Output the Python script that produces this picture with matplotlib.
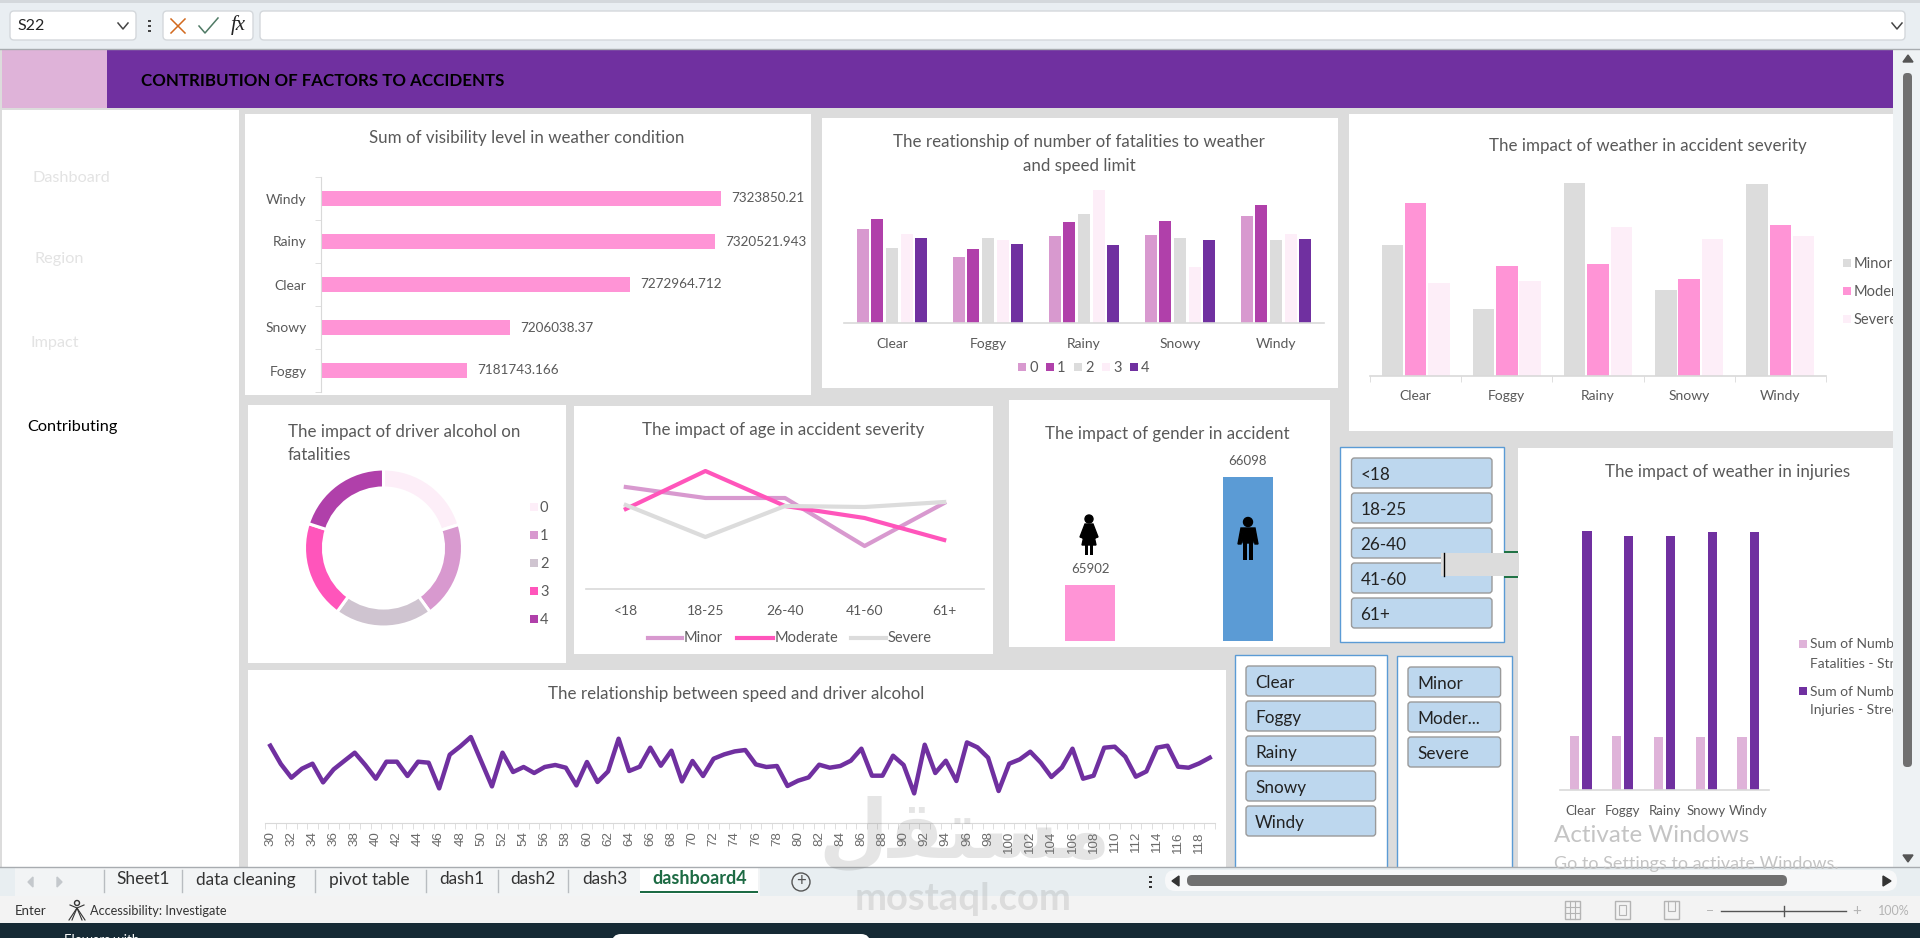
#!/usr/bin/env python3
import matplotlib
matplotlib.use("Agg")
import matplotlib.pyplot as plt
from matplotlib.patches import Rectangle, FancyBboxPatch, Circle, Polygon

W, H = 1920, 938
plt.rcParams['font.family'] = ['Lato', 'DejaVu Sans']

# data
weather = ["Clear", "Foggy", "Rainy", "Snowy", "Windy"]
visibility_labels = ["Foggy", "Snowy", "Clear", "Rainy", "Windy"]
visibility_sum = [7181743.166, 7206038.37, 7272964.712, 7320521.943, 7323850.21]
fatal_0 = [94, 66, 87, 88, 107]
fatal_1 = [104, 74, 101, 102, 118]
fatal_2 = [75, 85, 109, 85, 83]
fatal_3 = [89, 83, 133, 56, 89]
fatal_4 = [85, 79, 78, 83, 84]
weather_minor = [131, 67, 193, 86, 192]
weather_moderate = [173, 110, 112, 97, 151]
weather_severe = [93, 95, 149, 137, 140]
alcohol_groups = ["0", "1", "2", "3", "4"]
alcohol_share = [20.2, 19.8, 20, 20, 20]
age_groups = ["<18", "18-25", "26-40", "41-60", "61+"]
age_minor = [102, 91, 91, 43, 86]
age_moderate = [80, 118, 83, 71, 49]
age_severe = [84, 52, 83, 82, 87]
gender_values = [65902, 66098]
injuries_fatal = [54, 54, 53, 53, 53]
injuries_count = [259, 254, 254, 258, 258]
speeds = list(range(30, 120))
speed_alcohol = [
    77.0, 58.7, 45, 54, 59, 40.3, 53.3, 61.7, 70, 57.7, 44, 61, 61, 46.7, 61,
    60, 34.3, 68, 76.3, 85.7, 61, 36.3, 70, 50.7, 55.7, 49.7, 55.7, 57.7, 55,
    37.3, 60.7, 40.7, 51.3, 84, 51.7, 56, 75, 57, 72, 41.3, 61.7, 46.7, 64,
    68.3, 71.3, 72.7, 58.3, 55.7, 56.7, 36.7, 42, 45.3, 58, 55, 56.7, 62, 74,
    47, 47, 67, 57.7, 29.3, 78, 49.7, 62, 41.7, 80.3, 75.3, 65, 31.7, 59, 63.3,
    71, 60, 45.7, 55.3, 74, 44, 47, 75, 76, 66, 46, 51.3, 75, 77, 56, 55, 59.3, 65,
]
slicer_age = age_groups
slicer_weather = weather
slicer_severity = ["Minor", "Moder...", "Severe"]
sheet_tabs = ["Sheet1", "data cleaning", "pivot table", "dash1", "dash2", "dash3"]

PURPLE = "#7030a0"
PINK = "#ff94d6"
LILAC = "#d899cf"
MAGENTA = "#b040aa"
GREY = "#dcdcdc"
PALE = "#fdeef8"
HOT = "#ff55bb"
TXT = "#595959"
AXIS = "#d9d9d9"
TITLE_SIZE = 12.2

fig = plt.figure(figsize=(W / 100, H / 100), dpi=100, facecolor=GREY)


def layer(z):
    a = fig.add_axes([0, 0, 1, 1], zorder=z)
    a.set_xlim(0, W)
    a.set_ylim(H, 0)
    a.axis("off")
    return a


def chart_axes(x0, y0, x1, y1):
    a = fig.add_axes([x0 / W, 1 - y1 / H, (x1 - x0) / W, (y1 - y0) / H], zorder=2)
    a.patch.set_visible(False)
    for s in a.spines.values():
        s.set_visible(False)
    a.set_yticks([])
    return a


def box(a, x0, y0, x1, y1, color, **kw):
    a.add_patch(Rectangle((x0, y0), x1 - x0, y1 - y0, facecolor=color, edgecolor=kw.pop("edgecolor", "none"), **kw))


def text(a, x, y, s, size=11, color=TXT, ha="left", **kw):
    # va=center sits a little high for this font, nudge it down
    a.text(x, y + 1.5, s, fontsize=size, color=color, ha=ha, va="center", **kw)


def legend_square(a, x, y, color, label, size=10.5, gap=11):
    box(a, x, y - 4, x + 8, y + 4, color)
    text(a, x + gap, y, label, size=size)


def base_axis(a, ticks=False):
    a.spines["bottom"].set_visible(True)
    a.spines["bottom"].set_color(AXIS)
    a.spines["bottom"].set_linewidth(1.2)
    a.tick_params(axis="x", which="major", length=0, labelsize=10, labelcolor=TXT)
    if ticks:
        a.set_xticks([i - 0.5 for i in range(len(weather) + 1)], minor=True)
        a.tick_params(axis="x", which="minor", length=4, color=AXIS)


bg = layer(0)
top = layer(5)
over = layer(6)

# sheet background and header band
box(bg, 0, 50, W, 867, GREY)
box(bg, 2, 50, 107, 108, "#dfb3d9")
box(bg, 107, 50, 1893, 108, PURPLE)
text(bg, 141, 79, "CONTRIBUTION OF FACTORS TO ACCIDENTS", size=12.2, color="black", fontweight="bold")
box(bg, 2, 110, 239, 867, "white")
text(bg, 32, 177, "Dashboard", size=11.7, color="#e3e3e3")
text(bg, 35, 258, "Region", size=11.7, color="#e3e3e3")
text(bg, 31, 342, "Impact", size=11.7, color="#e3e3e3")
text(bg, 27, 425, "Contributing", size=11.7, color="black")

# white chart panels
panels = [
    (245, 114, 811, 395), (822, 118, 1338, 388), (1349, 114, 1893, 431),
    (248, 405, 566, 663), (574, 406, 993, 654), (1009, 400, 1330, 647),
    (248, 670, 1226, 867), (1518, 448, 1893, 867),
]
for p in panels:
    box(bg, p[0], p[1], p[2], p[3], "white")

# visibility by weather
ax = chart_axes(320.6, 177, 811, 392)
scale = 0.001787
ax.barh(visibility_labels, visibility_sum, height=0.36, color=PINK)
ax.set_xlim(7100000, 7100000 + (811 - 320.6) / scale)
ax.set_ylim(-0.5, 4.5)
ax.set_xticks([])
ax.set_yticks(range(5), visibility_labels)
ax.set_yticks([i - 0.5 for i in range(6)], minor=True)
ax.tick_params(axis="y", which="major", length=0, pad=10, labelsize=10, labelcolor=TXT)
ax.tick_params(axis="y", which="minor", length=4, color=AXIS)
ax.spines["left"].set_visible(True)
ax.spines["left"].set_color(AXIS)
for i, v in enumerate(visibility_sum):
    ax.annotate(f"{v:.10g}", (v, i), xytext=(7.5, 0), textcoords="offset points",
                va="center", fontsize=9.7, color=TXT)
text(top, 527, 137, "Sum of visibility level in weather condition", size=TITLE_SIZE, ha="center")

# fatalities by weather and speed limit
ax = chart_axes(844, 173, 1324, 323.3)
for j, (vals, col) in enumerate(zip([fatal_0, fatal_1, fatal_2, fatal_3, fatal_4],
                                    [LILAC, MAGENTA, GREY, PALE, PURPLE])):
    ax.bar([i + (j - 2) * 0.153 for i in range(5)], vals, width=0.127, color=col)
ax.set_xlim(-0.5, 4.5)
ax.set_ylim(0, 150.3)
ax.set_xticks(range(5), weather)
base_axis(ax)
ax.tick_params(axis="x", which="major", pad=10.5)
text(top, 1079, 140.5, "The reationship of number of fatalities to weather", size=TITLE_SIZE, ha="center")
text(top, 1079, 164, "and speed limit", size=TITLE_SIZE, ha="center")
for x, col, lab in zip([1018, 1046, 1074, 1102, 1130], [LILAC, MAGENTA, GREY, PALE, PURPLE], alcohol_groups):
    legend_square(top, x, 367, col, lab)

# severity by weather
ax = chart_axes(1370, 176, 1826, 376.3)
for j, (vals, col) in enumerate(zip([weather_minor, weather_moderate, weather_severe], [GREY, PINK, PALE])):
    ax.bar([i + (j - 1) * 0.255 for i in range(5)], vals, width=0.235, color=col)
ax.set_xlim(-0.5, 4.5)
ax.set_ylim(0, 200.3)
ax.set_xticks(range(5), weather)
base_axis(ax, ticks=True)
ax.tick_params(axis="x", which="major", pad=10)
text(top, 1648, 144.5, "The impact of weather in accident severity", size=TITLE_SIZE, ha="center")
for y, col, lab in zip([263, 291, 319], [GREY, PINK, PALE], ["Minor", "Moderate", "Severe"]):
    legend_square(top, 1843, y, col, lab)

# driver alcohol donut
ax = chart_axes(304, 469, 463, 627)
ax.pie(alcohol_share, colors=[PALE, LILAC, "#cfc4d0", HOT, MAGENTA], startangle=90, counterclock=False,
       radius=1, wedgeprops=dict(width=0.24, edgecolor="white", linewidth=2.2))
ax.set_xlim(-1, 1)
ax.set_ylim(-1, 1)
text(top, 287.5, 430.5, "The impact of driver alcohol on", size=TITLE_SIZE)
text(top, 287.5, 453.5, "fatalities", size=TITLE_SIZE)
for y, col, lab in zip([507, 535, 563, 591, 619], [PALE, LILAC, "#cfc4d0", HOT, MAGENTA], alcohol_groups):
    legend_square(top, 530, y, col, lab, gap=10)

# age vs severity lines
ax = chart_axes(586, 469, 984, 589)
for vals, col in zip([age_minor, age_moderate, age_severe], [LILAC, HOT, GREY]):
    ax.plot(age_groups, vals, color=col, linewidth=3)
ax.set_xlim(-0.5, 4.5)
ax.set_ylim(0, 120)
base_axis(ax)
ax.tick_params(axis="x", which="major", pad=11.5)
text(top, 783, 428, "The impact of age in accident severity", size=TITLE_SIZE, ha="center")
for x0, x1, col, lab in [(648, 682, LILAC, "Minor"), (737, 773, HOT, "Moderate"), (851, 886, GREY, "Severe")]:
    top.plot([x0, x1], [638, 638], color=col, linewidth=3)
    text(top, x1 + 2, 637, lab, size=10.5)

# gender bars
ax = chart_axes(1009, 450, 1330, 641)
ax.bar([0, 1], gender_values, width=50 / 158, color=[PINK, "#5b9bd5"])
ax.set_xlim(-81 / 158, 1 + 82 / 158)
ax.set_ylim(65800, 65800 + 191 / 0.55)
ax.set_xticks([])
for i, v in enumerate(gender_values):
    ax.annotate(str(v), (i, v), xytext=(0, 11.5), textcoords="offset points",
                ha="center", va="center", fontsize=9.5, color=TXT)
text(top, 1167, 432, "The impact of gender in accident", size=TITLE_SIZE, ha="center")

# pictograms above the gender bars
top.add_patch(Circle((1089, 519), 4, color="black"))
top.add_patch(Polygon([(1085, 524), (1093, 524), (1098, 537), (1095, 538), (1093, 531), (1096, 545),
                       (1082, 545), (1085, 531), (1083, 538), (1080, 537)], color="black"))
box(top, 1085, 545, 1088, 555, "black")
box(top, 1090, 545, 1093, 555, "black")
top.add_patch(Circle((1248, 522), 4.5, color="black"))
top.add_patch(Polygon([(1241, 528), (1255, 528), (1258, 544), (1255, 544), (1253, 534), (1253, 543),
                       (1243, 543), (1243, 534), (1241, 544), (1238, 544)], color="black"))
box(top, 1243, 543, 1247, 560, "black")
box(top, 1249, 543, 1253, 560, "black")


def slicer(x0, y0, x1, y1, bx0, bx1, tops, labels):
    box(top, x0, y0, x1, y1, "white", edgecolor="#5b9bd5", linewidth=1)
    for t, lab in zip(tops, labels):
        top.add_patch(FancyBboxPatch((bx0, t), bx1 - bx0, 30, boxstyle="round,pad=0,rounding_size=3",
                                     facecolor="#bdd7ee", edgecolor="#9a9a9a", linewidth=1))
        text(top, bx0 + 9, t + 15.5, lab, size=12.3, color="#222222")


slicer(1340, 447, 1503.5, 642, 1351.5, 1492, [458, 493, 528, 563, 598], slicer_age)
slicer(1234.7, 655, 1387, 870, 1246, 1375.6, [666, 701, 736, 771, 806], slicer_weather)
slicer(1397, 656, 1512, 870, 1408, 1500.6, [667, 702, 737], slicer_severity)

# active cell editor sitting over the age slicer
box(top, 1503.5, 551, 1517.6, 578, "#217346")
box(top, 1441, 553, 1519, 576, GREY)
top.plot([1443.6, 1443.6], [553, 576], color="black", linewidth=1)

# injuries by weather
ax = chart_axes(1560, 510, 1769, 790)
ax.bar([i - 0.145 for i in range(5)], injuries_fatal, width=0.22, color="#dfb3d9")
ax.bar([i + 0.145 for i in range(5)], injuries_count, width=0.22, color=PURPLE)
ax.set_xlim(-0.5, 4.5)
ax.set_ylim(0, 280)
ax.set_xticks(range(5), weather)
base_axis(ax)
ax.tick_params(axis="x", which="major", pad=11, labelsize=9.5)
text(top, 1728, 470, "The impact of weather in injuries", size=TITLE_SIZE, ha="center")
box(top, 1799, 640, 1807, 648, "#dfb3d9")
text(top, 1810, 643, "Sum of Number of", size=10)
text(top, 1810, 662, "Fatalities - Street", size=10)
box(top, 1799, 687, 1807, 695, PURPLE)
text(top, 1810, 690, "Sum of Number of", size=10)
text(top, 1810, 708, "Injuries - Street", size=10)

# speed vs alcohol line
ax = chart_axes(265, 700, 1215, 822.7)
ax.plot(speeds, speed_alcohol, color=PURPLE, linewidth=3.2)
ax.set_xlim(29.5, 119.5)
ax.set_ylim(0, 122.7)
ax.set_xticks(speeds[::2], [str(s) for s in speeds[::2]], rotation=90, family=["Liberation Sans"])
ax.set_xticks([s - 0.5 for s in speeds] + [119.5], minor=True)
ax.spines["bottom"].set_visible(True)
ax.spines["bottom"].set_color(AXIS)
ax.tick_params(axis="x", which="major", length=0, pad=6, labelsize=9.6, labelcolor="#6a6a6a")
ax.tick_params(axis="x", which="minor", length=4, color=AXIS)
text(top, 736, 692, "The relationship between speed and driver alcohol", size=TITLE_SIZE, ha="center")

# formula bar
box(over, 0, 0, W, 50, "#e9eef2")
box(over, 0, 0, W, 3, "#d4d8dc")
over.plot([0, W], [49.5, 49.5], color="#a8acb0", linewidth=1)
for x0, x1 in [(10, 136), (163, 253), (260, 1905)]:
    over.add_patch(FancyBboxPatch((x0, 11), x1 - x0, 29, boxstyle="round,pad=0,rounding_size=4",
                                  facecolor="white", edgecolor="#d4d8dc", linewidth=1))
text(over, 17, 25, "S22", size=11.5, color="#222222")
for cx in [123, 1897]:
    over.plot([cx - 5, cx, cx + 5], [23, 29, 23], color="#444444", linewidth=1.1)
for y in [21, 26, 31]:
    box(over, 148, y - 1, 151, y + 1, "#444444")
over.plot([171, 185], [19, 33], color="#d2691e", linewidth=1.1)
over.plot([171, 185], [33, 19], color="#d2691e", linewidth=1.1)
over.plot([199, 205, 218], [26, 33, 18], color="#4f7a65", linewidth=1.1)
text(over, 238, 24, "fx", size=15, color="#222222", ha="center", family="Liberation Serif", style="italic")

# vertical scrollbar strip
box(over, 1893, 50, W, 867, "#eef2f4")
over.add_patch(FancyBboxPatch((1903, 73), 9, 694, boxstyle="round,pad=0,rounding_size=4", facecolor="#707070", edgecolor="none"))
over.add_patch(Polygon([(1903, 855), (1913, 855), (1908, 862)], color="#555555"))
over.add_patch(Polygon([(1903, 62), (1913, 62), (1908, 55)], color="#555555"))

# sheet tabs, status bar and task bar
box(over, 0, 867, W, 896, "#e8eef1")
over.plot([0, W], [867, 867], color="#a8acb0", linewidth=1)
box(over, 15, 868, 760, 896, "#f2f4f5")
box(over, 0, 896, W, 923, "#f3f3f3")
box(over, 0, 923, W, H, "#162a35")
for x in [104, 182, 315, 425.6, 498, 568]:
    over.plot([x, x], [870, 892], color="#b8bcc0", linewidth=1)
for x, lab in zip([116, 196, 329, 439, 510, 582], sheet_tabs):
    text(over, x, 878, lab, size=12.4, color="#333333")
box(over, 640, 867, 758, 894, "white")
box(over, 640, 891, 758, 893, "#1d6b44")
text(over, 652, 877, "dashboard4", size=13, color="#1d6b44", fontweight="bold")
over.add_patch(Polygon([(33, 877), (33, 887), (28, 882)], color="#c4c8cc"))
over.add_patch(Polygon([(57, 877), (57, 887), (62, 882)], color="#c4c8cc"))
over.add_patch(Circle((801, 882), 9, facecolor="none", edgecolor="#555555", linewidth=1))
text(over, 801, 880, "+", size=12, color="#555555", ha="center")
text(over, 15, 909.5, "Enter", size=9.5, color="#333333")
text(over, 90, 909.5, "Accessibility: Investigate", size=9.2, color="#333333")
over.add_patch(Circle((77, 903), 2.5, facecolor="none", edgecolor="#333333", linewidth=1))
over.plot([70, 77, 84], [905, 908, 905], color="#333333", linewidth=0.8)
over.plot([72, 77, 85], [920, 908, 920], color="#333333", linewidth=0.8)
over.plot([69, 77, 82], [920, 908, 920], color="#333333", linewidth=0.8)
for y in [877, 882, 887]:
    box(over, 1149, y - 1, 1152, y + 1, "#333333")
over.add_patch(FancyBboxPatch((1165, 870), 732, 21, boxstyle="round,pad=0,rounding_size=10", facecolor="#f7f8f9", edgecolor="none"))
over.add_patch(FancyBboxPatch((1187, 875), 600, 11, boxstyle="round,pad=0,rounding_size=5", facecolor="#707070", edgecolor="none"))
over.add_patch(Polygon([(1179, 876), (1179, 886), (1172, 881)], color="#333333"))
over.add_patch(Polygon([(1883, 876), (1883, 886), (1891, 881)], color="#333333"))
for x0 in [1565, 1615, 1664]:
    box(over, x0, 901, x0 + 15, 919, "none", edgecolor="#b4b4b4", linewidth=1)
for i in range(1, 3):
    over.plot([1565 + 5 * i] * 2, [901, 919], color="#b4b4b4", linewidth=0.8)
    over.plot([1565, 1580], [901 + 6 * i] * 2, color="#b4b4b4", linewidth=0.8)
box(over, 1619, 905, 1626, 915, "none", edgecolor="#b4b4b4", linewidth=0.8)
box(over, 1668, 901, 1675, 911, "none", edgecolor="#b4b4b4", linewidth=0.8)
text(over, 1710, 909, "−", size=10, color="#b4b4b4", ha="center")
over.plot([1721, 1846], [911, 911], color="#555555", linewidth=1)
over.plot([1784, 1784], [906, 916], color="#555555", linewidth=1)
text(over, 1857, 909, "+", size=11, color="#b4b4b4", ha="center")
text(over, 1894, 909.5, "100%", size=9, color="#b4b4b4", ha="center")
over.add_patch(FancyBboxPatch((612, 934), 258, 20, boxstyle="round,pad=0,rounding_size=9", facecolor="white", edgecolor="none"))
text(over, 64, 938, "Flowers with", size=9.5, color="white")
text(over, 1806, 942, "10:38 PM", size=9.5, color="white")

# OS and site watermarks
text(over, 1554, 834, "Activate Windows", size=17.4, color="#c4c4c4")
text(over, 1554, 862, "Go to Settings to activate Windows.", size=12.9, color="#c4c4c4")
over.text(965, 836, "\ufedd\ufed8\ufe98\ufeb4\ufee3", fontsize=58, color="#808080", alpha=0.2, ha="center",
          va="center", family="DejaVu Sans", fontweight="bold")
over.text(963, 899, "mostaql.com", fontsize=27.5, color="#808080", alpha=0.2, ha="center",
          va="center", fontweight="bold")

fig.savefig("out.png", dpi=100, facecolor=fig.get_facecolor())
